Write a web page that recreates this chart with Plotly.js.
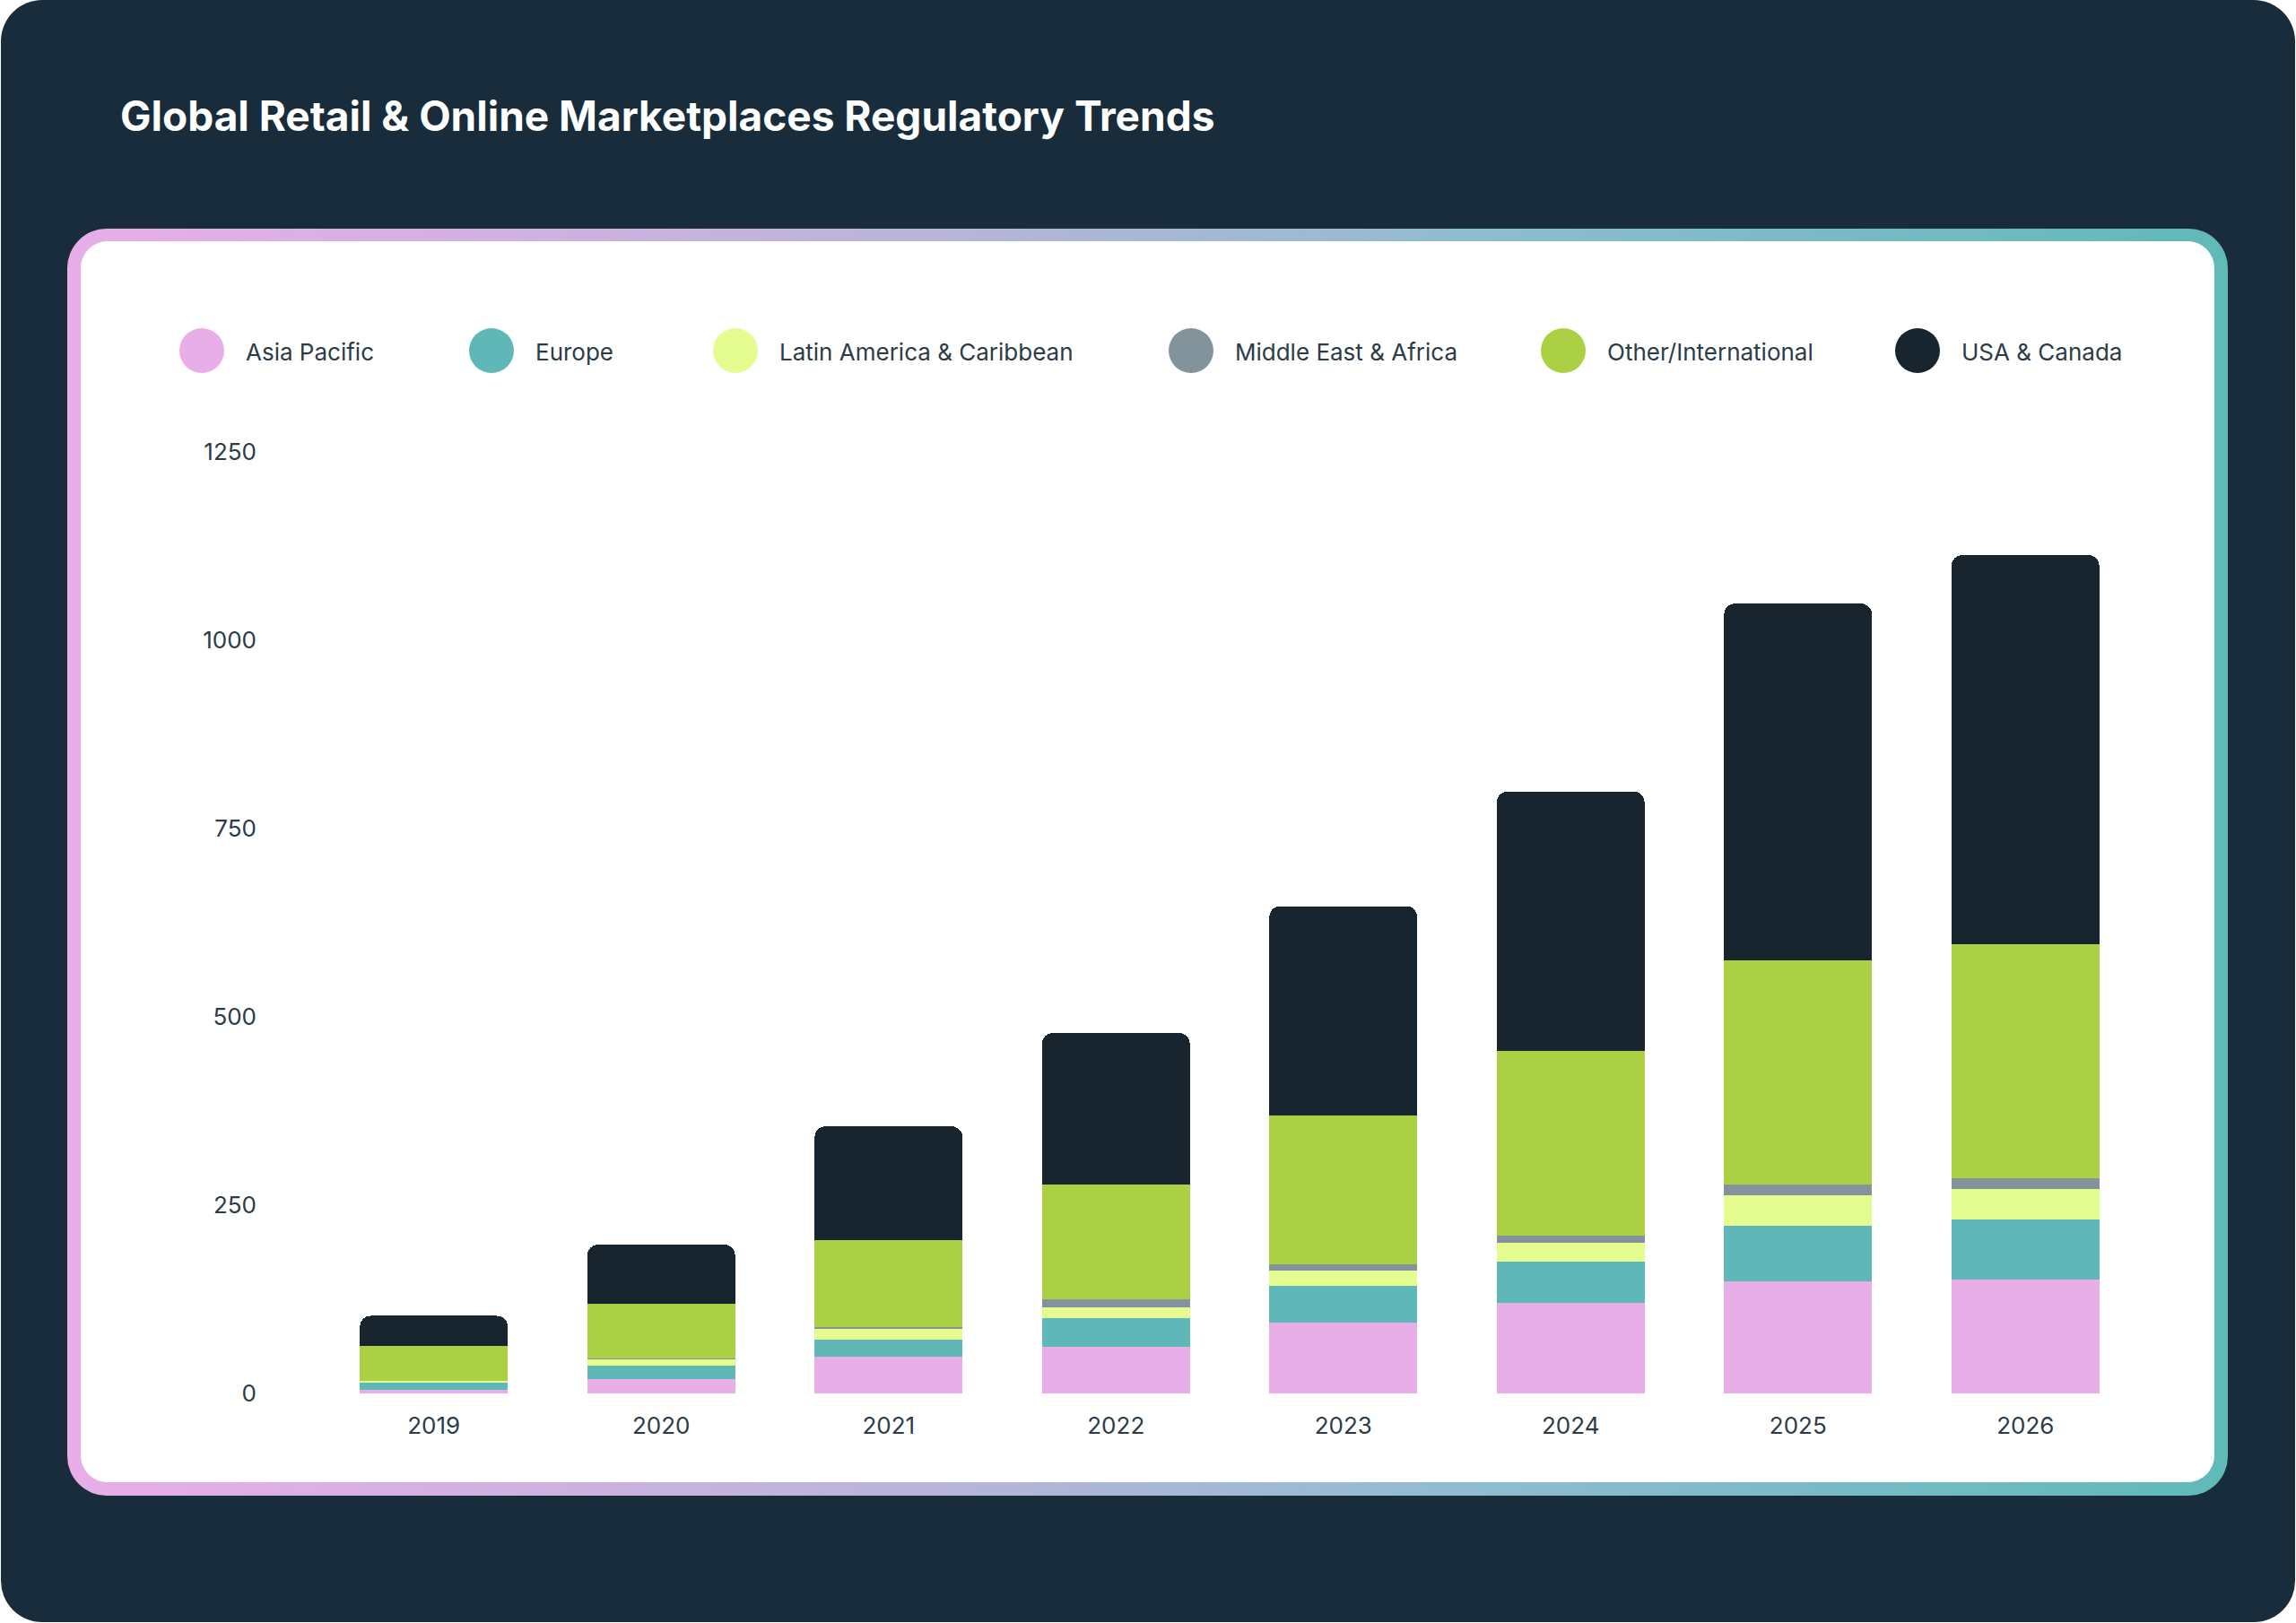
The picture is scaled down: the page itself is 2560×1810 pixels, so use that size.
<!DOCTYPE html>
<html>
<head>
<meta charset="utf-8">
<script src="https://cdn.plot.ly/plotly-3.0.1.min.js"></script>
<style>
  html, body { margin: 0; padding: 0; background: #ffffff; }
  body { width: 2560px; height: 1810px; position: relative; overflow: hidden; }
  #page {
    position: absolute; left: 1px; top: 0; width: 2558px; height: 1809px;
    background: #182c3b; border-radius: 46px;
  }
  #card {
    position: absolute; left: 75px; top: 255px; width: 2409px; height: 1413px;
    border-radius: 44px;
    background: linear-gradient(90deg, #e8aee8 0%, #b9b4da 40%, #8fbcd0 65%, #5fbab8 100%);
  }
  #cardInner {
    position: absolute; left: 15px; top: 14px; right: 15px; bottom: 15px;
    background: #ffffff; border-radius: 30px;
  }
  #chart { position: absolute; left: 0; top: 0; width: 2560px; height: 1810px; }
</style>
</head>
<body>
<div id="page"></div>
<div id="card"><div id="cardInner"></div></div>
<div id="chart"></div>
<script>
// Years and regulatory counts per region (stacked bottom to top)
const years = ['2019', '2020', '2021', '2022', '2023', '2024', '2025', '2026'];

const asiaPacific      = [5,    19.5, 48.5, 62.5, 94,  120, 148.5, 151];
const europe           = [9,    17.5, 23,   37.5, 49,  55,  74.5,  80.5];
const latinAmerica     = [2.5,  8,    14,   14,   20,  25,  40,    40];
const middleEastAfrica = [0.5,  1,    2.5,  11.5, 8,   9,   14.5,  14.5];
const otherIntl        = [46,   73.5, 115,  152,  198, 246, 298,   311];
const usaCanada        = [40,   78,   151.5, 201, 278, 344, 473,   516];

const seriesNames  = ['Asia Pacific', 'Europe', 'Latin America & Caribbean',
                      'Middle East & Africa', 'Other/International', 'USA & Canada'];
const seriesValues = [asiaPacific, europe, latinAmerica, middleEastAfrica, otherIntl, usaCanada];
const seriesColors = ['#e8aee8', '#5fb7b8', '#e5fc90', '#82939c', '#acd044', '#19252e'];

const yTicks = [0, 250, 500, 750, 1000, 1250];

// Page geometry
const W = 2560, H = 1810;
const M = { l: 357, r: 175, t: 504, b: 256 };
const plotW = W - M.l - M.r, plotH = H - M.t - M.b;
const px2x = px => (px - M.l) / plotW;
const py2y = py => (H - M.b - py) / plotH;

const traces = seriesNames.map((name, i) => ({
  type: 'bar',
  name: name,
  x: years,
  y: seriesValues[i],
  marker: { color: seriesColors[i], line: { width: 0 } },
  showlegend: false,
  hoverinfo: 'skip'
}));

// Custom legend: large round swatches with labels
const legendCenters = [225, 548, 820, 1328, 1743, 2138];
const legendY = 391, legendR = 25, labelGap = 47;
const shapes = [], annotations = [];
seriesNames.forEach((name, i) => {
  shapes.push({
    type: 'circle', xref: 'paper', yref: 'paper',
    xsizemode: 'pixel', ysizemode: 'pixel',
    xanchor: px2x(legendCenters[i]), yanchor: py2y(legendY),
    x0: -legendR, x1: legendR, y0: -legendR, y1: legendR,
    fillcolor: seriesColors[i], line: { width: 0 }
  });
  annotations.push({
    xref: 'paper', yref: 'paper',
    x: px2x(legendCenters[i] + labelGap), y: py2y(legendY + 1),
    xanchor: 'left', yanchor: 'middle', showarrow: false,
    text: name,
    font: { family: 'Inter, "Noto Sans", sans-serif', size: 26, color: '#2b3c48' }
  });
});

const layout = {
  width: W, height: H,
  margin: M,
  paper_bgcolor: 'rgba(0,0,0,0)',
  plot_bgcolor: 'rgba(0,0,0,0)',
  barmode: 'stack',
  bargap: 0.35,
  barcornerradius: 12,
  showlegend: false,
  hovermode: false,
  title: {
    text: 'Global Retail & Online Marketplaces Regulatory Trends',
    xref: 'container', yref: 'container',
    x: 134 / W, xanchor: 'left',
    y: 1 - 130 / H, yanchor: 'middle',
    font: { family: 'Inter, "Noto Sans", sans-serif', size: 46, weight: 700, color: '#ffffff' }
  },
  xaxis: {
    type: 'category',
    range: [-0.5, 7.5],
    showgrid: false, zeroline: false, showline: false, ticks: '',
    ticklabelstandoff: 18,
    tickfont: { family: 'Inter, "Noto Sans", sans-serif', size: 26, color: '#2b3c48' },
    fixedrange: true
  },
  yaxis: {
    range: [0, 1250],
    tickvals: yTicks,
    ticktext: yTicks.map(String),
    showgrid: false, zeroline: false, showline: false, ticks: '',
    ticklabelstandoff: 70,
    tickfont: { family: 'Inter, "Noto Sans", sans-serif', size: 26, color: '#2b3c48' },
    fixedrange: true
  },
  shapes: shapes,
  annotations: annotations
};

Plotly.newPlot('chart', traces, layout, { displayModeBar: false, staticPlot: true });
</script>
</body>
</html>
